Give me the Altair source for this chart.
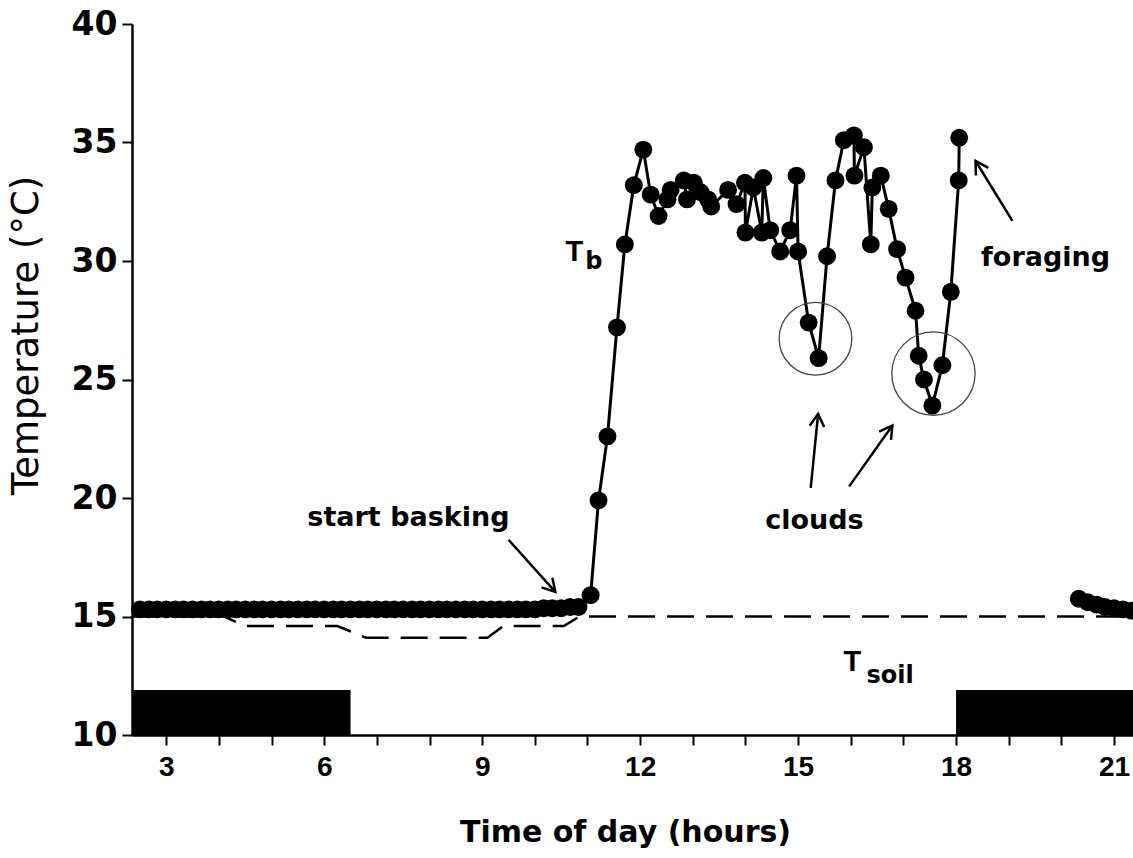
import math
import altair as alt
import pandas as pd

# ---------------- layout constants ----------------
X_MIN, X_MAX = 2.35, 21.36
Y_MIN, Y_MAX = 10, 40
W, H = 1001, 711
PXH = W / (X_MAX - X_MIN)   # px per hour
PXT = H / (Y_MAX - Y_MIN)   # px per degree

# ---------------- data ----------------
# Body temperature Tb during the night (burrow), 10-min records
night_hours = [2.50, 2.67, 2.83, 3.00, 3.17, 3.33, 3.50, 3.67, 3.83, 4.00,
               4.17, 4.33, 4.50, 4.67, 4.83, 5.00, 5.17, 5.33, 5.50, 5.67,
               5.83, 6.00, 6.17, 6.33, 6.50, 6.67, 6.83, 7.00, 7.17, 7.33,
               7.50, 7.67, 7.83, 8.00, 8.17, 8.33, 8.50, 8.67, 8.83, 9.00,
               9.17, 9.33, 9.50, 9.67, 9.83, 10.00, 10.17, 10.33, 10.50, 10.67,
               10.83]
night_temps = [15.3, 15.3, 15.3, 15.3, 15.3, 15.3, 15.3, 15.3, 15.3, 15.3,
               15.3, 15.3, 15.3, 15.3, 15.3, 15.3, 15.3, 15.3, 15.3, 15.3,
               15.3, 15.3, 15.3, 15.3, 15.3, 15.3, 15.3, 15.3, 15.3, 15.3,
               15.3, 15.3, 15.3, 15.3, 15.3, 15.3, 15.3, 15.3, 15.3, 15.3,
               15.3, 15.3, 15.3, 15.3, 15.3, 15.3, 15.35, 15.35, 15.35, 15.4,
               15.4]

# Tb during the active day
day_hours = [11.06, 11.21, 11.38, 11.56, 11.71, 11.88, 12.06, 12.20, 12.35, 12.52,
             12.58, 12.83, 12.89, 13.02, 13.15, 13.29, 13.35, 13.67, 13.83, 13.99,
             14.00, 14.15, 14.31, 14.34, 14.47, 14.66, 14.85, 14.97, 15.00, 15.20,
             15.39, 15.55, 15.71, 15.87, 16.06, 16.07, 16.25, 16.38, 16.41, 16.57,
             16.72, 16.88, 17.04, 17.23, 17.29, 17.39, 17.55, 17.74, 17.90, 18.05,
             18.06]
day_temps = [15.9, 19.9, 22.6, 27.2, 30.7, 33.2, 34.7, 32.8, 31.9, 32.6,
             33.0, 33.4, 32.6, 33.3, 32.9, 32.6, 32.3, 33.0, 32.4, 33.3,
             31.2, 33.1, 31.2, 33.5, 31.3, 30.4, 31.3, 33.6, 30.4, 27.4,
             25.9, 30.2, 33.4, 35.1, 35.3, 33.6, 34.8, 30.7, 33.1, 33.6,
             32.2, 30.5, 29.3, 27.9, 26.0, 25.0, 23.9, 25.6, 28.7, 33.4,
             35.2]

# Tb in the evening (back in burrow)
eve_hours = [20.33, 20.50, 20.67, 20.83, 21.00, 21.17, 21.33]
eve_temps = [15.75, 15.6, 15.5, 15.4, 15.35, 15.3, 15.25]

# Soil temperature (dashed)
soil_hours = [X_MIN, 4.10, 4.50, 6.25, 6.80, 9.10, 9.40, 10.55, 10.85, X_MAX]
soil_temps = [15.0, 15.0, 14.6, 14.6, 14.1, 14.1, 14.6, 14.6, 15.0, 15.0]

# Dark periods (night bars)
dark_start = [X_MIN, 18.0]
dark_end = [6.5, X_MAX]
dark_top = 11.9

# Axis ticks
x_ticks = list(range(3, 22))
y_ticks = [10, 15, 20, 25, 30, 35, 40]

# Annotations
label_text = ["start basking", "clouds", "foraging"]
label_hour = [7.60, 15.31, 19.70]
label_temp = [19.14, 19.01, 30.13]

arrow_tail_h = [9.50, 15.24, 15.97, 19.07]
arrow_tail_t = [18.24, 20.43, 20.49, 31.69]
arrow_head_h = [10.39, 15.38, 16.79, 18.37]
arrow_head_t = [16.04, 23.55, 23.06, 34.22]

circle_hour = [15.33, 17.57]
circle_temp = [26.72, 25.25]
circle_rad = [41, 47]

# ---------------- tables ----------------
rows = []
i = 0
for h, t in zip(night_hours + day_hours, night_temps + day_temps):
    rows.append({"hour": h, "temp": t, "seg": "day", "idx": i})
    i += 1
for h, t in zip(eve_hours, eve_temps):
    rows.append({"hour": h, "temp": t, "seg": "evening", "idx": i})
    i += 1
tb = pd.DataFrame(rows)

soil = pd.DataFrame({"hour": soil_hours, "temp": soil_temps})
dark = pd.DataFrame({"hour": dark_start, "hour2": dark_end,
                     "temp": [Y_MIN] * len(dark_start), "temp2": [dark_top] * len(dark_start)})
labels = pd.DataFrame({"hour": label_hour, "temp": label_temp, "txt": label_text})

ang = []
for th, tt, hh, ht in zip(arrow_tail_h, arrow_tail_t, arrow_head_h, arrow_head_t):
    dx = (hh - th) * PXH
    dy = -(ht - tt) * PXT
    ang.append(math.degrees(math.atan2(dx, -dy)) % 360)
arrows = pd.DataFrame({"hour": arrow_tail_h, "temp": arrow_tail_t,
                       "hour2": arrow_head_h, "temp2": arrow_head_t})
heads = pd.DataFrame({"hour": arrow_head_h, "temp": arrow_head_t, "ang": ang})
circles = pd.DataFrame({"hour": circle_hour, "temp": circle_temp,
                        "sz": [math.pi * r * r for r in circle_rad]})

# ---------------- scales & axes ----------------
xs = alt.Scale(domain=[X_MIN, X_MAX], nice=False, zero=False)
ys = alt.Scale(domain=[Y_MIN, Y_MAX], nice=False, zero=False)

x_axis = alt.Axis(
    values=x_ticks,
    labelExpr="datum.value % 3 == 0 ? datum.label : ''",
    title="Time of day (hours)",
    titleFont="DejaVu Sans", titleFontSize=30, titleFontWeight="bold",
    titleX=493, titleY=97, titleBaseline="middle", titleAlign="center",
    labelFont="Liberation Sans", labelFontSize=28, labelFontWeight="bold",
    labelPadding=8, tickSize=10, tickWidth=2, domainWidth=2.5,
    grid=False, labelColor="black", titleColor="black",
    domainColor="black", tickColor="black",
)
y_axis = alt.Axis(
    values=y_ticks,
    title="Temperature (°C)",
    titleFont="DejaVu Sans", titleFontSize=37, titleFontWeight="normal",
    titleAngle=270, titleX=-106, titleY=311, titleAlign="center", titleBaseline="middle",
    labelFont="DejaVu Sans", labelFontSize=33, labelFontWeight="bold",
    labelPadding=5, tickSize=10, tickWidth=2, domainWidth=2.5,
    grid=False, labelColor="black", titleColor="black",
    domainColor="black", tickColor="black",
)

X = alt.X("hour:Q", scale=xs, axis=x_axis)
Y = alt.Y("temp:Q", scale=ys, axis=y_axis)

# ---------------- layers ----------------
dark_layer = alt.Chart(dark).mark_rect(color="black").encode(
    x=X, x2="hour2:Q", y=Y, y2="temp2:Q")

soil_layer = alt.Chart(soil).mark_line(
    color="black", strokeWidth=2.5, strokeDash=[27, 12]).encode(x=X, y=Y)

tb_line = alt.Chart(tb).mark_line(color="black", strokeWidth=3).encode(
    x=X, y=Y, detail="seg:N", order="idx:Q")

tb_pts = alt.Chart(tb).mark_circle(color="black", size=320, opacity=1).encode(x=X, y=Y)

circle_layer = alt.Chart(circles).mark_point(
    shape="circle", filled=False, color="#444444", strokeWidth=1.3, opacity=1).encode(
    x=X, y=Y, size=alt.Size("sz:Q", scale=None, legend=None))

shaft_layer = alt.Chart(arrows).mark_rule(color="black", strokeWidth=2.5).encode(
    x=X, y=Y, x2="hour2:Q", y2="temp2:Q")

head_layer = alt.Chart(heads).mark_point(
    shape="M -0.55 0.95 L 0 0 L 0.55 0.95", filled=False, color="black",
    strokeWidth=2.5, size=700, opacity=1).encode(
    x=X, y=Y, angle=alt.Angle("ang:Q", scale=None))

label_layer = alt.Chart(labels).mark_text(
    font="DejaVu Sans", fontSize=27, fontWeight="bold", color="black",
    align="center", baseline="middle").encode(x=X, y=Y, text="txt:N")

sym = pd.DataFrame({
    "hour": [10.75, 16.03],
    "temp": [30.39, 13.07],
    "txt": ["T", "T"],
})
sub = pd.DataFrame({
    "hour": [10.96, 16.30],
    "temp": [29.97, 12.49],
    "txt": ["b", "soil"],
})
sym_layer = alt.Chart(sym).mark_text(
    font="Liberation Sans", fontSize=29, fontWeight="bold", color="black",
    align="center", baseline="middle").encode(x=X, y=Y, text="txt:N")
sub_layer = alt.Chart(sub).mark_text(
    font="DejaVu Sans", fontSize=24, fontWeight="bold", color="black",
    align="left", baseline="middle").encode(x=X, y=Y, text="txt:N")

chart = alt.layer(
    dark_layer, soil_layer, tb_line, tb_pts, circle_layer,
    shaft_layer, head_layer, label_layer, sym_layer, sub_layer
).properties(
    width=W, height=H,
    autosize=alt.AutoSizeParams(type="none"),
    padding={"left": 132, "top": 24, "right": 0, "bottom": 123},
    background="white",
).configure_view(stroke=None)

chart.save("out.html", embed_options={"renderer": "svg", "actions": False})
